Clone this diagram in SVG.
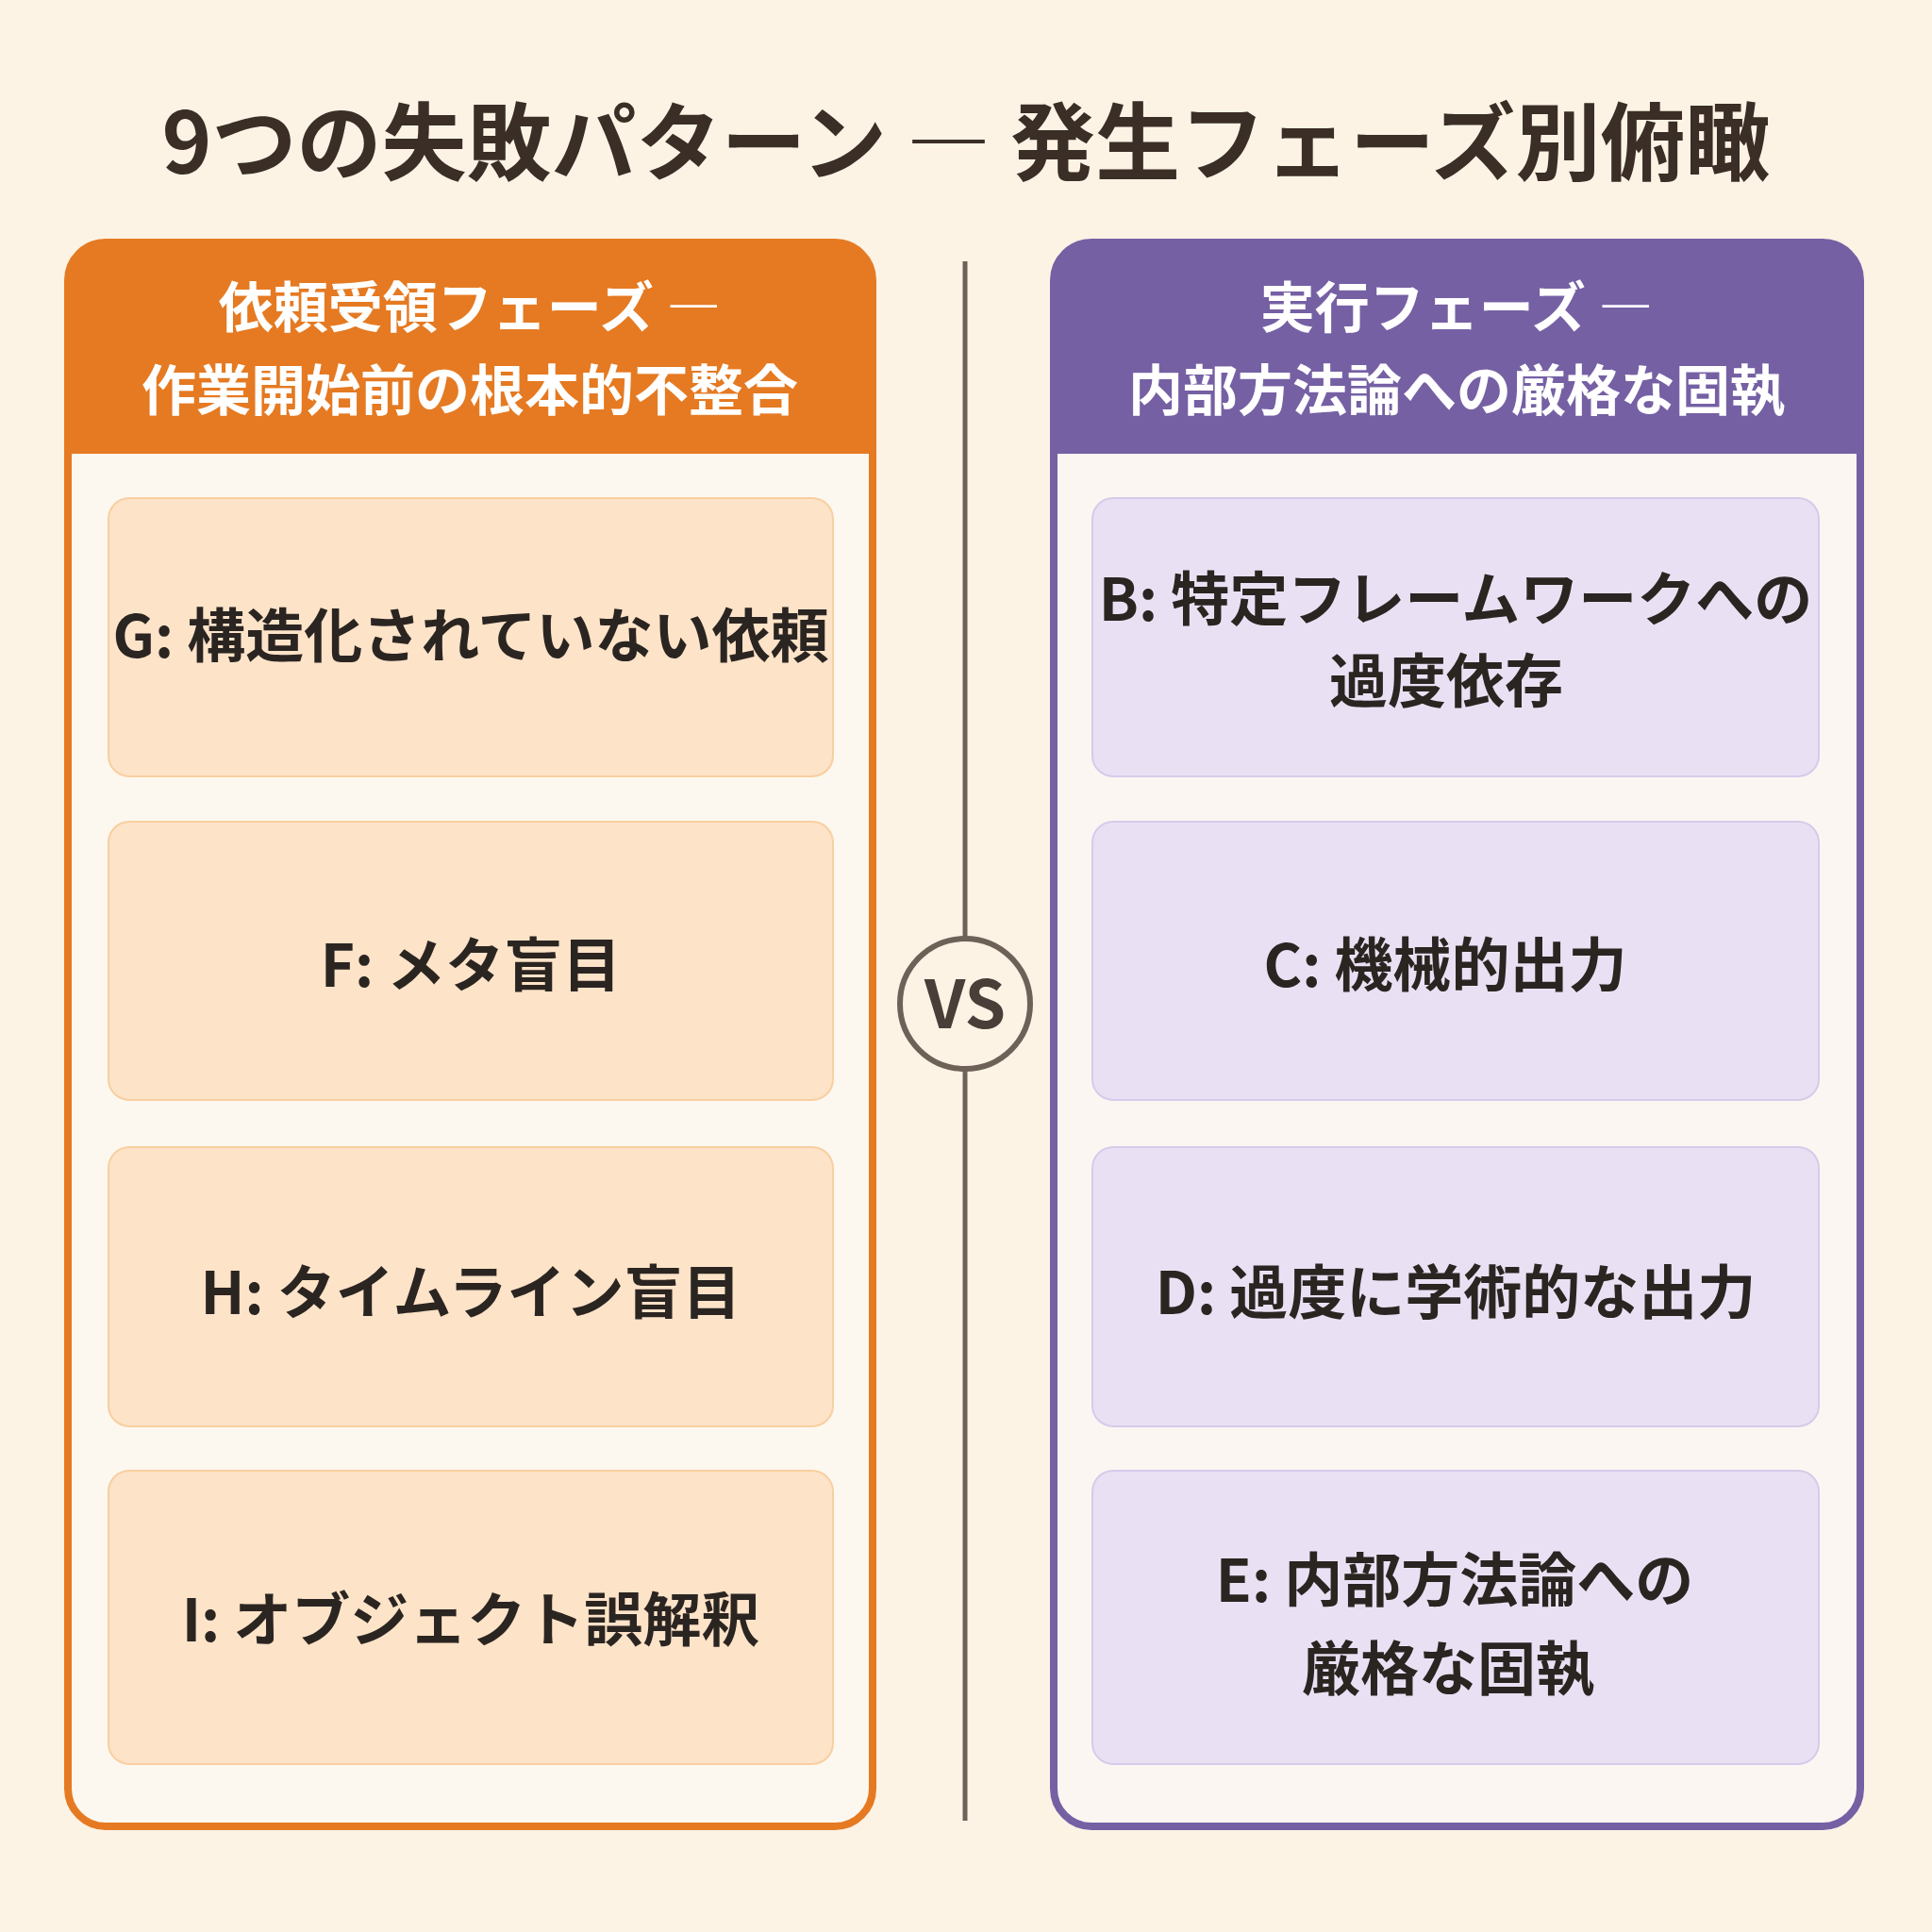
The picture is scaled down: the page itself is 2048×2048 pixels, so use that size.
<svg xmlns="http://www.w3.org/2000/svg" width="2048" height="2048" viewBox="0 0 2048 2048">
<style>
text{font-family:"Noto Sans CJK JP","Noto Sans",sans-serif;font-weight:700;text-anchor:middle}
.t{font-size:90px;fill:#3a2e26}
.h{font-size:58px;fill:#fff}
.c{font-size:62px;fill:#2b2522}
.co{fill:#fde3c8;stroke:#f8cfa0;stroke-width:2}
.cp{fill:#e9e1f3;stroke:#d6cbea;stroke-width:2}
</style>
<rect width="2048" height="2048" fill="#fcf3e5"/>
<text class="t" x="1024" y="184">9つの失敗パターン ― 発生フェーズ別俯瞰</text>
<g id="connectors">
<line x1="1023" y1="277" x2="1023" y2="1930" stroke="#6e6258" stroke-width="5"/>
</g>
<g id="vs">
<circle cx="1023" cy="1064" r="69" fill="#fcf3e5" stroke="#6e6258" stroke-width="6"/>
<text x="1023" y="1090" style="font-size:70px;fill:#4a3f38">VS</text>
</g>
<g id="left-panel">
<rect x="72" y="257" width="853" height="1679" rx="40" fill="#fdf8ef" stroke="#e57a22" stroke-width="8"/>
<path d="M72 481V297a40 40 0 0 1 40-40h773a40 40 0 0 1 40 40v184z" fill="#e57a22"/>
<text class="h" x="498" y="347">依頼受領フェーズ ―</text>
<text class="h" x="498" y="435">作業開始前の根本的不整合</text>
</g>
<g id="right-panel">
<rect x="1117" y="257" width="855" height="1679" rx="40" fill="#fbf6f2" stroke="#7560a4" stroke-width="8"/>
<path d="M1117 481V297a40 40 0 0 1 40-40h775a40 40 0 0 1 40 40v184z" fill="#7560a4"/>
<text class="h" x="1544" y="347">実行フェーズ ―</text>
<text class="h" x="1544" y="435">内部方法論への厳格な固執</text>
</g>
<g id="G"><rect class="co" x="115" y="528" width="768" height="295" rx="22"/><text class="c" x="499" y="697">G: 構造化されていない依頼</text></g>
<g id="F"><rect class="co" x="115" y="871" width="768" height="295" rx="22"/><text class="c" x="499" y="1046">F: メタ盲目</text></g>
<g id="H"><rect class="co" x="115" y="1216" width="768" height="296" rx="22"/><text class="c" x="499" y="1393">H: タイムライン盲目</text></g>
<g id="I"><rect class="co" x="115" y="1559" width="768" height="311" rx="22"/><text class="c" x="499" y="1740">I: オブジェクト誤解釈</text></g>
<g id="B"><rect class="cp" x="1158" y="528" width="770" height="295" rx="22"/><text class="c" x="1543" y="658">B: 特定フレームワークへの</text><text class="c" x="1533" y="745">過度依存</text></g>
<g id="C"><rect class="cp" x="1158" y="871" width="770" height="295" rx="22"/><text class="c" x="1532" y="1046">C: 機械的出力</text></g>
<g id="D"><rect class="cp" x="1158" y="1216" width="770" height="296" rx="22"/><text class="c" x="1543" y="1393">D: 過度に学術的な出力</text></g>
<g id="E"><rect class="cp" x="1158" y="1559" width="770" height="311" rx="22"/><text class="c" x="1542" y="1698">E: 内部方法論への</text><text class="c" x="1535" y="1792">厳格な固執</text></g>
</svg>
